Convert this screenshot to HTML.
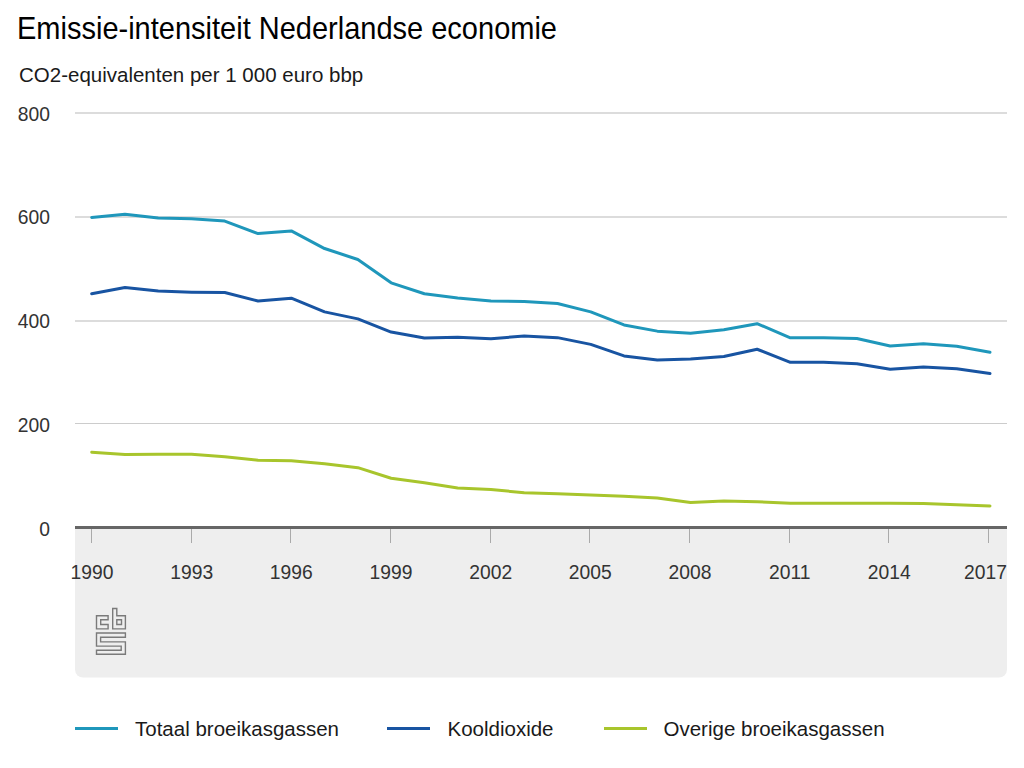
<!DOCTYPE html>
<html><head><meta charset="utf-8"><style>
html,body{margin:0;padding:0;background:#fff;width:1024px;height:768px;overflow:hidden}
body{font-family:"Liberation Sans",sans-serif;position:relative}
.t{position:absolute;white-space:nowrap;line-height:1}
</style></head><body>
<div class="t" style="left:17px;top:14px;font-size:29px;color:#000;transform:scaleY(1.06);transform-origin:0 0">Emissie-intensiteit Nederlandse economie</div>
<div class="t" style="left:19px;top:64.5px;font-size:20.5px;color:#1a1a1a">CO2-equivalenten per 1 000 euro bbp</div>
<svg width="1024" height="768" style="position:absolute;left:0;top:0">
<path d="M75,529 H1007 V669.5 a8,8 0 0 1 -8,8 H83 a8,8 0 0 1 -8,-8 Z" fill="#eeeeee"/>
<rect x="75" y="112.3" width="932" height="1.4" fill="#cdcdcd"/><rect x="75" y="216.3" width="932" height="1.4" fill="#cdcdcd"/><rect x="75" y="320.3" width="932" height="1.4" fill="#cdcdcd"/><rect x="75" y="423" width="932" height="1" fill="#cccccc"/>
<rect x="75" y="526" width="932" height="3" fill="#666666"/>
<rect x="91" y="529" width="1" height="14" fill="#aaaaaa"/><rect x="191" y="529" width="1" height="14" fill="#aaaaaa"/><rect x="290" y="529" width="1" height="14" fill="#aaaaaa"/><rect x="390" y="529" width="1" height="14" fill="#aaaaaa"/><rect x="490" y="529" width="1" height="14" fill="#aaaaaa"/><rect x="589" y="529" width="1" height="14" fill="#aaaaaa"/><rect x="689" y="529" width="1" height="14" fill="#aaaaaa"/><rect x="789" y="529" width="1" height="14" fill="#aaaaaa"/><rect x="888" y="529" width="1" height="14" fill="#aaaaaa"/><rect x="988" y="529" width="1" height="14" fill="#aaaaaa"/>
<g font-family="Liberation Sans" font-size="19.3" fill="#333"><text x="50" y="121" text-anchor="end">800</text><text x="50" y="223.8" text-anchor="end">600</text><text x="50" y="328" text-anchor="end">400</text><text x="50" y="432" text-anchor="end">200</text><text x="50" y="536" text-anchor="end">0</text><text x="92.0" y="578.5" text-anchor="middle">1990</text><text x="191.7" y="578.5" text-anchor="middle">1993</text><text x="291.3" y="578.5" text-anchor="middle">1996</text><text x="391.0" y="578.5" text-anchor="middle">1999</text><text x="490.7" y="578.5" text-anchor="middle">2002</text><text x="590.3" y="578.5" text-anchor="middle">2005</text><text x="690.0" y="578.5" text-anchor="middle">2008</text><text x="789.7" y="578.5" text-anchor="middle">2011</text><text x="889.3" y="578.5" text-anchor="middle">2014</text><text x="1007" y="578.5" text-anchor="end">2017</text></g>
<g fill="none" stroke-width="3" stroke-linejoin="round" stroke-linecap="round">
<polyline points="91.70,452.25 124.97,454.45 158.24,454.35 191.51,454.15 224.78,456.65 258.05,460.15 291.32,460.65 324.59,463.65 357.86,467.65 391.13,478.25 424.40,482.85 457.67,488.05 490.94,489.45 524.21,492.75 557.48,493.65 590.75,494.95 624.02,496.25 657.29,498.05 690.56,502.45 723.83,501.05 757.10,501.65 790.37,503.35 823.64,503.35 856.91,503.35 890.18,503.35 923.45,503.45 956.72,504.65 989.99,505.95" stroke="#a8c52c"/>
<polyline points="91.70,293.75 124.97,287.45 158.24,291.05 191.51,292.15 224.78,292.55 258.05,300.95 291.32,298.15 324.59,311.85 357.86,318.85 391.13,332.05 424.40,338.05 457.67,337.15 490.94,338.75 524.21,335.95 557.48,337.65 590.75,344.35 624.02,355.95 657.29,359.95 690.56,358.95 723.83,356.45 757.10,349.25 790.37,362.35 823.64,362.35 856.91,363.65 890.18,369.15 923.45,367.05 956.72,368.75 989.99,373.45" stroke="#1854a2"/>
<polyline points="91.70,217.45 124.97,214.25 158.24,218.05 191.51,218.75 224.78,221.05 258.05,233.55 291.32,230.95 324.59,248.55 357.86,259.45 391.13,282.85 424.40,293.75 457.67,297.95 490.94,300.95 524.21,301.45 557.48,303.55 590.75,311.85 624.02,324.95 657.29,331.15 690.56,333.25 723.83,329.75 757.10,323.65 790.37,337.85 823.64,337.85 856.91,338.55 890.18,345.95 923.45,343.85 956.72,346.25 989.99,352.15" stroke="#1f97bb"/>
</g>
<g fill="none" stroke="#7a7a7a" stroke-width="1.4" stroke-linejoin="miter">
<path d="M96.5,615.7 H108.1 V619.8 H100.7 V624.5 H108.1 V628.9 H96.5 Z"/>
<path d="M112.7,608.5 H116.8 V615.7 H125.4 V628.9 H112.7 Z M116.8,619.8 H121.5 V624.5 H116.8 Z"/>
<path d="M96.5,633 H125.4 V637.2 H100.6 V641.9 H125.4 V654.3 H96.5 V650.3 H121.2 V646.1 H96.5 Z"/>
</g>
<rect x="75" y="727" width="43" height="3" fill="#1f97bb"/>
<rect x="387" y="727" width="43" height="3" fill="#1854a2"/>
<rect x="604" y="727" width="43" height="3" fill="#a8c52c"/>
<g font-family="Liberation Sans" font-size="20.5" fill="#1a1a1a">
<text x="135" y="735.5">Totaal broeikasgassen</text>
<text x="447.5" y="735.5">Kooldioxide</text>
<text x="663.5" y="735.5">Overige broeikasgassen</text>
</g>
</svg>
</body></html>
